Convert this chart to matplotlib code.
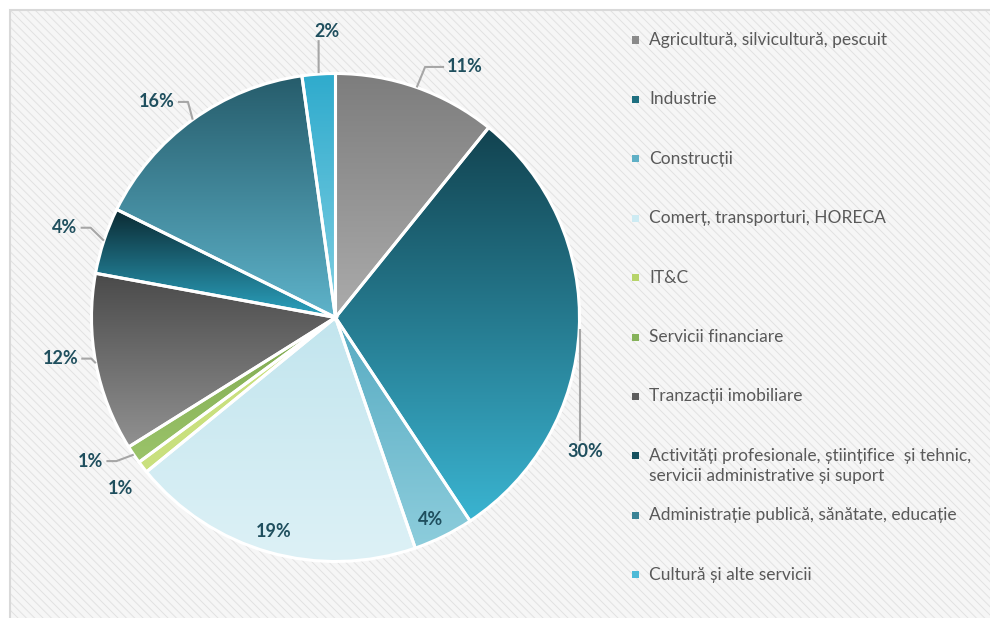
import numpy as np
import matplotlib
matplotlib.use('Agg')
import matplotlib.pyplot as plt
from matplotlib.colors import to_rgb
from matplotlib.patches import Rectangle

plt.rcParams['font.family'] = ['Lato', 'DejaVu Sans']
plt.rcParams['hatch.linewidth'] = 0.7

sectors = [
    'Agricultură, silvicultură, pescuit',
    'Industrie',
    'Construcții',
    'Comerț, transporturi, HORECA',
    'IT&C',
    'Servicii financiare',
    'Tranzacții imobiliare',
    'Activități profesionale, științifice  și tehnic,\nservicii administrative și suport',
    'Administrație publică, sănătate, educație',
    'Cultură și alte servicii',
]
shares = [10.8, 29.9, 4.0, 19.4, 0.8, 1.2, 11.8, 4.4, 15.5, 2.2]

# gradient top -> bottom for each slice
grad_top = ['#7d7d7d', '#124350', '#57abc2', '#c2e5ee', '#c9e07e', '#7ea84f',
            '#4a4a4a', '#0b2830', '#265c6b', '#2fabcd']
grad_bot = ['#ababab', '#3ab4d1', '#8dcddc', '#ddf1f6', '#c9e07e', '#9bc46a',
            '#919191', '#2ba3c0', '#5eb3ca', '#80cfe2']
legend_colors = ['#8a8a8a', '#1e6f80', '#5fb0c6', '#cdebf3', '#b7d46a', '#86b25a',
                 '#5e5e5e', '#15505e', '#3a8396', '#4dbad7']

# label placement: radius, angle tweak (deg), leader side
lab_r = [1.156, 1.162, 0.915, 0.912, 1.125, 1.163, 1.140, 1.168, 1.147, 1.172]
lab_dt = [-7.9, -25.4, -1.1, -0.4, 0.8, -3.8, -2.3, 0.0, 3.8, -2.3]
leaders = ['left', 'bottom', None, None, None, 'right', 'right', 'right', 'right', 'top']

W, H = 990, 618
fig = plt.figure(figsize=(W / 100, H / 100), dpi=100)
fig.patch.set_facecolor('white')

bg = Rectangle((10 / W, -0.01), 1.0, 1 - 10 / H + 0.01, transform=fig.transFigure,
               facecolor='#f6f6f6', edgecolor='#e2e2e2', hatch='\\\\\\\\', lw=0, zorder=-2)
fig.patches.append(bg)
frame = Rectangle((10 / W, -0.01), 1.0, 1 - 10 / H + 0.01, transform=fig.transFigure,
                  facecolor='none', edgecolor='#d9d9d9', lw=1.5, zorder=-1)
fig.patches.append(frame)

cx, cy, rad = 335.5, 317.5, 244.0
ax = fig.add_axes([(cx - 300) / W, (H - cy - 300) / H, 600 / W, 600 / H])
ax.set_facecolor('none')
wedges, _ = ax.pie(shares, startangle=90, counterclock=False, radius=1.0,
                   wedgeprops=dict(edgecolor='white', linewidth=2.2, facecolor='none'))

for i, w in enumerate(wedges):
    ext = w.get_path().get_extents()
    c0 = np.array(to_rgb(grad_top[i]))
    c1 = np.array(to_rgb(grad_bot[i]))
    t = np.linspace(0, 1, 256)[:, None, None]
    img = c0 * (1 - t) + c1 * t
    img = np.repeat(img, 2, axis=1)
    im = ax.imshow(img, extent=[ext.x0, ext.x1, ext.y0, ext.y1], origin='upper',
                   aspect='auto', interpolation='bilinear', zorder=0)
    im.set_clip_path(w)
    w.set_zorder(2)

ax.set_aspect('auto')
ax.set_xlim(-300 / rad, 300 / rad)
ax.set_ylim(-300 / rad, 300 / rad)
ax.axis('off')

labels = []
for i, w in enumerate(wedges):
    mid = (w.theta1 + w.theta2) / 2
    a = np.deg2rad(mid + lab_dt[i])
    t = ax.text(lab_r[i] * np.cos(a), lab_r[i] * np.sin(a), '%.0f%%' % shares[i],
                ha='center', va='center', fontsize=13, fontweight='bold',
                color='#1f4f5e', zorder=5)
    labels.append((t, mid))

# leader lines from slice edge to the label
fig.canvas.draw()
rend = fig.canvas.get_renderer()
inv = ax.transData.inverted()
for i, (t, mid) in enumerate(labels):
    side = leaders[i]
    if side is None:
        continue
    bb = t.get_window_extent(rend)
    m = np.deg2rad(mid)
    ex, ey = ax.transData.transform((np.cos(m), np.sin(m)))
    yc = (bb.y0 + bb.y1) / 2
    if side == 'left':
        pts = [(bb.x0 - 3, yc), (bb.x0 - 22, yc), (ex, ey)]
    elif side == 'right':
        pts = [(bb.x1 + 3, yc), (bb.x1 + 13, yc), (ex, ey)]
    elif side == 'bottom':
        pts = [(ex + 1, bb.y1 + 2), (ex + 1, ey)]
    else:
        pts = [(bb.x0 + 4, bb.y0), (ex, ey + 1)]
    xy = inv.transform(pts)
    ax.plot(xy[:, 0], xy[:, 1], color='#a6a6a6', lw=1.5, zorder=4,
            solid_capstyle='butt')

# legend drawn by hand so multi-line entry keeps Excel spacing
for i, name in enumerate(sectors):
    y = 40 + i * 59.4
    fig.patches.append(Rectangle((632 / W, 1 - (y + 3.5) / H), 7 / W, 7 / H,
                                 transform=fig.transFigure, facecolor=legend_colors[i],
                                 edgecolor='none'))
    fig.text(649 / W, 1 - (y - 8) / H, name, ha='left', va='top', fontsize=12.5,
             color='#595959', linespacing=1.3)

fig.savefig('out.png', dpi=100)
